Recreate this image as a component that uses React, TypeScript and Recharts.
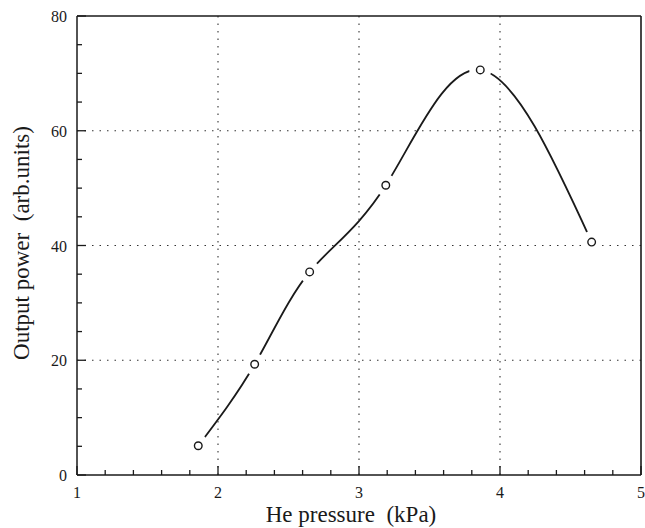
import React from 'react';
import { ComposedChart, Line, XAxis, YAxis, ReferenceLine } from 'recharts';

const pressure = [1.86, 2.26, 2.65, 3.19, 3.86, 4.65];
const power = [5.1, 19.3, 35.4, 50.5, 70.6, 40.6];
const xTicks = [1, 1.2, 1.4, 1.6, 1.8, 2, 2.2, 2.4, 2.6, 2.8, 3, 3.2, 3.4, 3.6, 3.8, 4, 4.2, 4.4, 4.6, 4.8, 5];
const yTicks = [0, 5, 10, 15, 20, 25, 30, 35, 40, 45, 50, 55, 60, 65, 70, 75, 80];
const xGrid = [2, 3, 4];
const yGrid = [20, 40, 60];
const xLabel = 'He pressure\u00a0 (kPa)';
const yLabel = 'Output power\u00a0 (arb.units)';

const data = pressure.map((p, i) => ({ p, v: power[i] }));

const FONT = '"Liberation Serif", "Times New Roman", serif';
const INK = '#1a1a1a';

const isMajor = (v: number) => Math.abs(v - Math.round(v)) < 1e-6;

const XTick = (props: any) => {
  const { x, y, payload } = props;
  const major = isMajor(payload.value);
  return (
    <g>
      <line x1={x} x2={x} y1={y} y2={y - (major ? 9 : 5)} stroke={INK} strokeWidth={1.3} />
      {major && (
        <text x={x} y={y + 23} textAnchor="middle" fontFamily={FONT} fontSize={16} fill={INK}>
          {Math.round(payload.value)}
        </text>
      )}
    </g>
  );
};

const YTick = (props: any) => {
  const { x, y, payload } = props;
  const major = payload.value % 20 === 0;
  return (
    <g>
      <line x1={x} x2={x + (major ? 9 : 5)} y1={y} y2={y} stroke={INK} strokeWidth={1.3} />
      {major && (
        <text x={x - 10} y={y + 6} textAnchor="end" fontFamily={FONT} fontSize={16} fill={INK}>
          {payload.value}
        </text>
      )}
    </g>
  );
};

const MaskDot = (props: any) => {
  const { cx, cy } = props;
  if (cx == null || cy == null) return null;
  return <circle cx={cx} cy={cy} r={11} fill="#fff" stroke="none" />;
};

const OpenDot = (props: any) => {
  const { cx, cy } = props;
  if (cx == null || cy == null) return null;
  return <circle cx={cx} cy={cy} r={3.8} fill="#fff" stroke={INK} strokeWidth={1.4} />;
};

export default function App() {
  return (
    <div style={{ position: 'absolute', left: 0, top: 0, width: 645, height: 528, background: '#fff' }}>
      <ComposedChart width={645} height={528} data={data} margin={{ top: 16, right: 4, bottom: 0, left: 0 }}>
        <XAxis
          dataKey="p"
          type="number"
          domain={[1, 5]}
          ticks={xTicks}
          interval={0}
          tickSize={0}
          tickMargin={0}
          tick={<XTick />}
          height={53}
          stroke={INK}
          strokeWidth={1.5}
          allowDataOverflow
        />
        <YAxis
          type="number"
          domain={[0, 80]}
          ticks={yTicks}
          interval={0}
          tickSize={0}
          tickMargin={0}
          tick={<YTick />}
          width={77}
          stroke={INK}
          strokeWidth={1.5}
          allowDataOverflow
        />
        <Line
          dataKey="v"
          type="natural"
          stroke={INK}
          strokeWidth={1.8}
          dot={<MaskDot />}
          activeDot={false}
          isAnimationActive={false}
        />
        {xGrid.map((g) => (
          <ReferenceLine key={'x' + g} x={g} stroke="#333" strokeWidth={1.1} strokeDasharray="1.5 6" />
        ))}
        {yGrid.map((g) => (
          <ReferenceLine key={'y' + g} y={g} stroke="#333" strokeWidth={1.1} strokeDasharray="1.5 6" />
        ))}
        <ReferenceLine y={80} stroke={INK} strokeWidth={1.6} />
        <ReferenceLine x={5} stroke={INK} strokeWidth={1.6} />
        <Line
          dataKey="v"
          type="natural"
          stroke="none"
          dot={<OpenDot />}
          activeDot={false}
          isAnimationActive={false}
        />
      </ComposedChart>
      <div
        style={{
          position: 'absolute',
          left: 351,
          top: 515,
          transform: 'translate(-50%, -50%)',
          fontFamily: FONT,
          fontSize: 23,
          lineHeight: '24px',
          color: INK,
          whiteSpace: 'pre',
        }}
      >
        {xLabel}
      </div>
      <div
        style={{
          position: 'absolute',
          left: 22,
          top: 243,
          transform: 'translate(-50%, -50%) rotate(-90deg)',
          fontFamily: FONT,
          fontSize: 23,
          lineHeight: '24px',
          color: INK,
          whiteSpace: 'pre',
        }}
      >
        {yLabel}
      </div>
    </div>
  );
}
